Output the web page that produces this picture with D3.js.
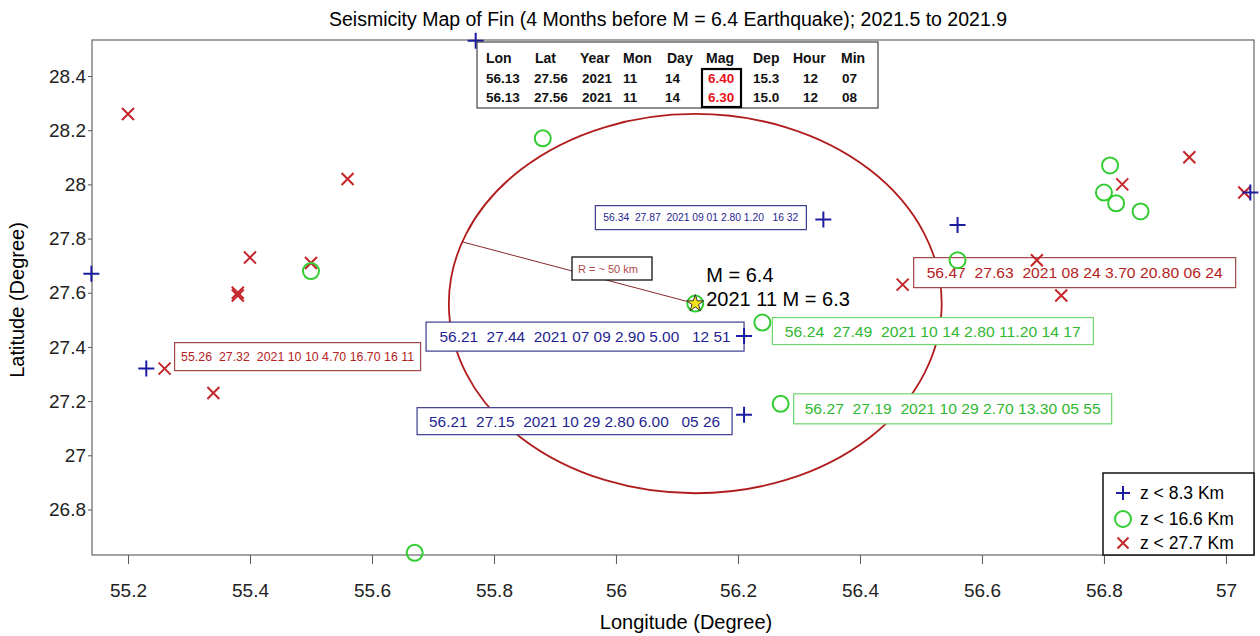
<!DOCTYPE html>
<html lang="en">
<head>
<meta charset="utf-8">
<title>Seismicity Map of Fin</title>
<script src="https://d3js.org/d3.v7.min.js"></script>
<style>
  body { margin: 0; background: #fff; }
  text { font-family: "Liberation Sans", Arial, sans-serif; }
  .axis text { font-size: 19px; fill: #222; }
  .axis line { stroke: #555; }
  .axis path { display: none; }
</style>
</head>
<body>
<script>
// ---- data ----
const xTicks = [55.2, 55.4, 55.6, 55.8, 56, 56.2, 56.4, 56.6, 56.8, 57];
const yTicks = [26.8, 27, 27.2, 27.4, 27.6, 27.8, 28, 28.2, 28.4];

// z < 8.3 km  (lon, lat)
const shallow = [
  [55.14, 27.67], [55.23, 27.32], [55.77, 28.53], [56.34, 27.87],
  [56.56, 27.85], [56.21, 27.44], [56.21, 27.15], [57.04, 27.97]
];
// z < 16.6 km
const middle = [
  [55.88, 28.17], [55.50, 27.68], [55.67, 26.64], [56.13, 27.56],
  [56.24, 27.49], [56.27, 27.19], [56.56, 27.72], [56.81, 28.07],
  [56.80, 27.97], [56.82, 27.93], [56.86, 27.90]
];
// z < 27.7 km
const deep = [
  [55.20, 28.26], [55.56, 28.02], [55.40, 27.73], [55.38, 27.59],
  [55.38, 27.60], [55.50, 27.71], [55.26, 27.32], [55.34, 27.23],
  [56.47, 27.63], [56.69, 27.72], [56.73, 27.59], [56.83, 28.00],
  [56.94, 28.10], [57.03, 27.97]
];

const mainShock = [56.13, 27.56];
const circleRadius = [0.404, 0.70];   // lon, lat degrees
const radiusAngle = 161;              // degrees

const legendLabels = ["z < 8.3 Km", "z < 16.6 Km", "z < 27.7 Km"];

const tableHeader = ["Lon", "Lat", "Year", "Mon", "Day", "Mag", "Dep", "Hour", "Min"];
const tableRows = [
  ["56.13", "27.56", "2021", "11", "14", "6.40", "15.3", "12", "07"],
  ["56.13", "27.56", "2021", "11", "14", "6.30", "15.0", "12", "08"]
];

// annotated events: point, series, text
const notes = [
  { p: [56.34, 27.87], s: 0, t: "56.34  27.87  2021 09 01 2.80 1.20   16 32" },
  { p: [56.21, 27.44], s: 0, t: "56.21  27.44  2021 07 09 2.90 5.00   12 51" },
  { p: [56.21, 27.15], s: 0, t: "56.21  27.15  2021 10 29 2.80 6.00   05 26" },
  { p: [56.24, 27.49], s: 1, t: "56.24  27.49  2021 10 14 2.80 11.20 14 17" },
  { p: [56.27, 27.19], s: 1, t: "56.27  27.19  2021 10 29 2.70 13.30 05 55" },
  { p: [56.47, 27.63], s: 2, t: "56.47  27.63  2021 08 24 3.70 20.80 06 24" },
  { p: [55.26, 27.32], s: 2, t: "55.26  27.32  2021 10 10 4.70 16.70 16 11" }
];

// ---- layout ----
const W = 1260, H = 636;
const m = { left: 92, top: 40, right: 6, bottom: 81 };

// box offsets from point (px): dx, dy, w, h, font, text width
const noteBoxes = [
  [-228, -14, 211, 24, 10, 195],
  [-318, -14, 318, 29, 15.5, 291],
  [-327, -7, 315, 27, 15.5, 291],
  [10, -5, 321, 27, 15.5, 296],
  [13, -10, 318, 30, 15.5, 296],
  [11, -27, 322, 30, 15.5, 296],
  [10, -26, 246, 28, 12, 233]
];

const colors = {
  blue: "#1c1ca0", green: "#33cc33", red: "#c4262a"
};
const noteStyle = [
  { stroke: "#3b3b8f", fill: "#1f1f90" },
  { stroke: "#6fd66f", fill: "#30b830" },
  { stroke: "#a04848", fill: "#b42222" }
];

const x = d3.scaleLinear().domain([55.141, 57.046]).range([m.left, W - m.right]);
const y = d3.scaleLinear().domain([26.632, 28.533]).range([H - m.bottom, m.top]);

const svg = d3.select("body").append("svg")
  .attr("width", W).attr("height", H);

// title
svg.append("text")
  .attr("x", 668).attr("y", 26)
  .attr("text-anchor", "middle")
  .attr("font-size", "19.5px")
  .text("Seismicity Map of Fin (4 Months before M = 6.4 Earthquake); 2021.5 to 2021.9");

// axes
const fmt = d => String(+d.toFixed(1));
svg.append("g")
  .attr("class", "axis")
  .attr("transform", "translate(0," + (H - m.bottom) + ")")
  .call(d3.axisBottom(x).tickValues(xTicks).tickSize(9).tickPadding(20).tickFormat(fmt));

svg.append("g")
  .attr("class", "axis")
  .attr("transform", "translate(" + m.left + ",0)")
  .call(d3.axisLeft(y).tickValues(yTicks).tickSize(4).tickPadding(2).tickFormat(fmt));

// frame
svg.append("rect")
  .attr("x", m.left).attr("y", m.top)
  .attr("width", W - m.left - m.right).attr("height", H - m.top - m.bottom)
  .attr("fill", "none").attr("stroke", "#666").attr("stroke-width", 1.2);

// axis titles
svg.append("text")
  .attr("x", 686).attr("y", 629)
  .attr("text-anchor", "middle").attr("font-size", "20px")
  .text("Longitude (Degree)");
svg.append("text")
  .attr("transform", "translate(24,300) rotate(-90)")
  .attr("text-anchor", "middle").attr("font-size", "20px")
  .text("Latitude (Degree)");

// circle around main shock and radius line
const cx = x(mainShock[0]), cy = y(mainShock[1]);
const rx = x(mainShock[0] + circleRadius[0]) - cx;
const ry = cy - y(mainShock[1] + circleRadius[1]);
svg.append("ellipse")
  .attr("cx", cx).attr("cy", cy).attr("rx", rx).attr("ry", ry)
  .attr("fill", "none").attr("stroke", "#b01c1c").attr("stroke-width", 1.8);

const a = radiusAngle * Math.PI / 180;
svg.append("line")
  .attr("x1", cx).attr("y1", cy)
  .attr("x2", cx + rx * Math.cos(a)).attr("y2", cy - ry * Math.sin(a))
  .attr("stroke", "#8a2a2a").attr("stroke-width", 1);

// R label
svg.append("rect")
  .attr("x", 572).attr("y", 257).attr("width", 80).attr("height", 23)
  .attr("fill", "#fff").attr("stroke", "#111").attr("stroke-width", 1.3);
svg.append("text")
  .attr("x", 578).attr("y", 273).attr("font-size", "11px")
  .attr("fill", "#b04848").style("white-space", "pre")
  .text("R = ~ 50 km");

// annotation boxes
notes.forEach((n, i) => {
  const [dx, dy, w, h, fs, tw] = noteBoxes[i];
  const px = x(n.p[0]), py = y(n.p[1]);
  const st = noteStyle[n.s];
  svg.append("rect")
    .attr("x", px + dx).attr("y", py + dy).attr("width", w).attr("height", h)
    .attr("fill", "#fff").attr("stroke", st.stroke).attr("stroke-width", 1.2);
  svg.append("text")
    .attr("x", px + dx + (w - tw) / 2).attr("y", py + dy + h / 2)
    .attr("dy", "0.36em")
    .attr("font-size", fs + "px")
    .attr("fill", st.fill)
    .attr("textLength", tw).attr("lengthAdjust", "spacingAndGlyphs")
    .style("white-space", "pre")
    .text(n.t);
});

// markers
function plus(g, px, py, s, c) {
  g.append("path").attr("d", `M${px - s},${py}H${px + s}M${px},${py - s}V${py + s}`)
    .attr("stroke", c).attr("stroke-width", 2).attr("fill", "none");
}
function cross(g, px, py, s, c) {
  g.append("path").attr("d", `M${px - s},${py - s}L${px + s},${py + s}M${px - s},${py + s}L${px + s},${py - s}`)
    .attr("stroke", c).attr("stroke-width", 2).attr("fill", "none");
}
function ring(g, px, py, r, c) {
  g.append("circle").attr("cx", px).attr("cy", py).attr("r", r)
    .attr("fill", "none").attr("stroke", c).attr("stroke-width", 2);
}

const marks = svg.append("g");
deep.forEach(d => cross(marks, x(d[0]), y(d[1]), 6, colors.red));
middle.forEach(d => ring(marks, x(d[0]), y(d[1]), 8, colors.green));
shallow.forEach(d => plus(marks, x(d[0]), y(d[1]), 8, colors.blue));

// main shock star
svg.append("path")
  .attr("d", d3.symbol(d3.symbolStar, 90)())
  .attr("transform", `translate(${cx},${cy})`)
  .attr("fill", "#f3e21a").attr("stroke", "#333").attr("stroke-width", 1);

svg.append("text")
  .attr("x", cx + 11).attr("y", cy - 22).attr("font-size", "20px")
  .text("M = 6.4");
svg.append("text")
  .attr("x", cx + 11).attr("y", cy + 2).attr("font-size", "20px")
  .text("2021 11 M = 6.3");

// table of main shocks
const tg = svg.append("g");
tg.append("rect")
  .attr("x", 477).attr("y", 42).attr("width", 401).attr("height", 66)
  .attr("fill", "#fff").attr("stroke", "#444").attr("stroke-width", 1.2);
const headX = [486, 535, 580, 623, 667, 706, 753, 793, 841];
const cellX = [486, 534, 582, 623, 665, 708, 753, 803, 842];
tg.selectAll(".th").data(tableHeader).join("text")
  .attr("x", (d, i) => headX[i]).attr("y", 63)
  .attr("font-size", "14px").attr("font-weight", "bold").attr("fill", "#111")
  .text(d => d);
tableRows.forEach((row, r) => {
  tg.selectAll(".r" + r).data(row).join("text")
    .attr("x", (d, i) => cellX[i]).attr("y", 83 + r * 19)
    .attr("font-size", "13.5px").attr("font-weight", "bold")
    .attr("fill", (d, i) => i === 5 ? "#e8141c" : "#111")
    .text(d => d);
});
tg.append("rect")
  .attr("x", 702).attr("y", 69).attr("width", 39).attr("height", 38)
  .attr("fill", "none").attr("stroke", "#000").attr("stroke-width", 2.2);

// legend
const lg = svg.append("g");
lg.append("rect")
  .attr("x", 1103).attr("y", 473).attr("width", 151).attr("height", 82)
  .attr("fill", "#fff").attr("stroke", "#111").attr("stroke-width", 1.5);
const legY = [493, 519, 543];
plus(lg, 1123, legY[0], 7, colors.blue);
ring(lg, 1123, legY[1], 8, colors.green);
cross(lg, 1123, legY[2], 5.5, colors.red);
lg.selectAll(".lt").data(legendLabels).join("text")
  .attr("x", 1140).attr("y", (d, i) => legY[i]).attr("dy", "0.36em")
  .attr("font-size", "17.5px").text(d => d);
</script>
</body>
</html>
